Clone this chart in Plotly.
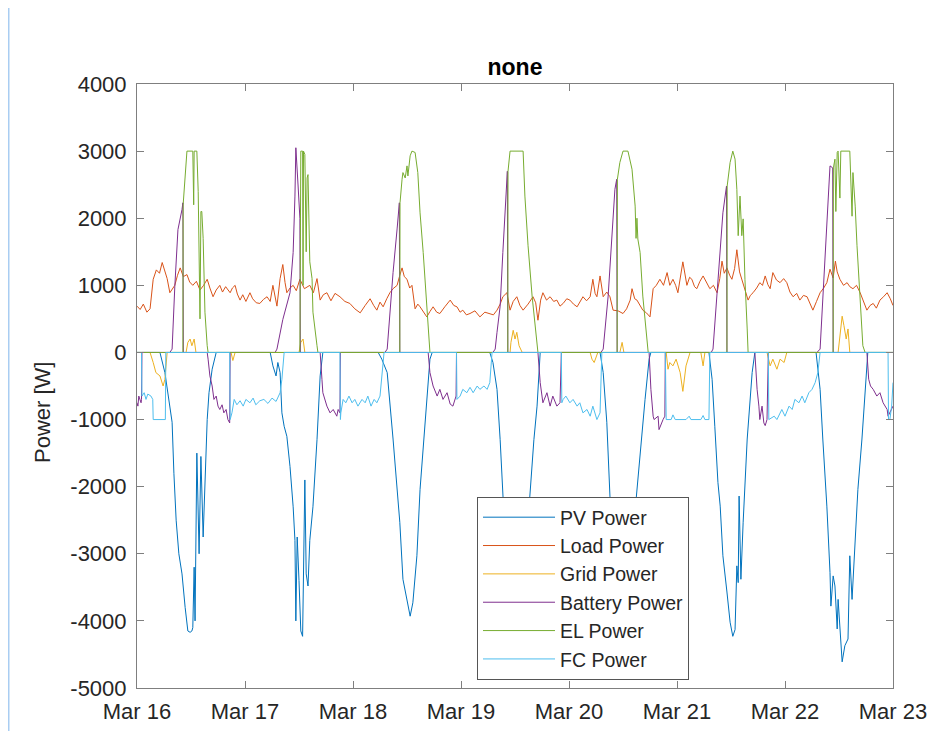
import numpy as np
import pandas as pd
import plotly.graph_objects as go

START = pd.Timestamp("2024-03-16 00:00")

# ---- data: hours since Mar 16 00:00 and power in W ----
pv_h = [0.0, 5.1, 6.2, 7.1, 7.8, 8.2, 8.7, 9.3, 10.0, 10.7, 11.3, 11.8, 12.2, 12.4, 12.7, 12.9, 13.3, 13.8, 14.2, 14.7,
        15.1, 15.6, 16.0, 16.7, 17.6,
        29.6, 30.2, 30.9, 31.3, 31.8, 32.2, 32.7, 33.3, 34.0, 34.7, 35.1, 35.3, 35.6, 36.0, 36.4, 36.8, 37.1, 37.3,
        37.6, 38.0, 38.4, 39.1, 40.0, 40.7, 41.3,
        53.6, 54.4, 55.6, 56.9, 58.4, 59.1, 60.0, 60.7, 61.3, 62.2, 62.9, 64.0, 65.1, 65.6,
        78.4, 79.1, 80.0, 80.7, 81.3, 82.2, 83.1, 84.0, 84.9, 86.0, 87.3, 88.2, 88.9, 89.6,
        102.9, 103.6, 104.4, 105.1, 106.0, 107.1, 108.2, 109.3, 110.2, 110.9, 111.8, 112.9, 113.8, 114.2,
        127.1, 127.8, 128.4, 129.1, 129.6, 130.2, 131.1, 131.8, 132.4, 132.9, 133.3, 133.6, 133.8, 134.2, 134.7,
        135.6, 136.7, 137.3,
        150.9, 151.8, 152.4, 153.3, 154.0, 154.2, 154.7, 155.1, 155.6, 155.8, 156.7, 157.3, 158.0, 158.4, 158.9,
        159.6, 160.2, 161.1, 161.8, 162.4, 168.0]
pv_w = [0, 0, -300, -700, -1040, -1800, -2500, -3000, -3300, -3800, -4150, -4170, -4150, -4100, -3200, -4000, -1500,
        -3000, -1550, -2750, -1900, -1000, -600, -250, 0,
        0, -200, -350, -150, -300, -900, -1100, -1250, -1700, -2300, -2800, -4000, -2750, -3400, -4150, -4230, -3000,
        -1900, -3300, -3480, -2800, -2300, -1300, -350, 0,
        0, -100, -300, -1290, -2530, -3380, -3680, -3930, -3730, -3030, -2040, -1040, -100, 0,
        0, -150, -550, -1300, -2140, -3300, -4000, -4200, -4000, -3200, -2140, -1300, -800, 0,
        0, -300, -1040, -2140, -3300, -4000, -4150, -3800, -3000, -2200, -1500, -700, -100, 0,
        0, -400, -1100, -1940, -2290, -3030, -3570, -4020, -4230, -4130, -3180, -3430, -2140, -3380, -2530,
        -1290, -300, 0,
        0, -550, -1290, -2290, -3280, -3780, -3330, -3480, -4120, -3680, -4610, -4370, -4270, -3030, -3680,
        -2780, -2040, -1290, -550, 0, 0]

load_h = [0.0, 0.7, 1.4, 2.2, 2.9, 3.6, 4.3, 5.0, 5.6, 6.2, 6.7, 7.3, 7.9, 8.4, 9.0, 9.6, 10.3, 11.1, 11.7, 12.4,
          13.2, 14.0, 14.8, 15.6, 16.2, 16.9, 17.6, 18.4, 19.0, 19.7, 20.7, 21.2, 21.8, 22.3, 22.9, 23.5, 24.2,
          25.1, 25.7, 26.5, 27.3, 28.1, 28.9, 29.6, 30.2, 30.7, 31.1, 31.8, 32.4, 32.9, 33.3, 34.0, 34.7, 35.4,
          36.2, 37.2, 38.4, 39.2, 40.0, 40.7, 41.4, 42.2, 43.1, 44.0, 45.1, 46.2, 47.3, 48.4, 49.6, 50.7, 51.8,
          52.6, 53.3, 54.0, 54.7, 55.5, 56.2, 56.9, 57.8, 58.4, 58.9, 59.4, 60.0, 60.6, 61.1, 61.8, 62.4, 62.9,
          63.6, 64.4, 65.1, 65.8, 66.6, 67.3, 68.4, 69.6, 70.4, 71.1, 71.8, 72.4, 73.2, 74.0, 75.1, 76.2, 77.3,
          78.4, 79.2, 80.0, 80.7, 81.3, 82.2, 82.9, 83.6, 84.4, 85.1, 85.8, 86.9, 88.0, 88.6, 89.1, 89.7, 90.2,
          91.0, 91.8, 92.6, 93.3, 94.0, 94.7, 95.5, 96.2, 97.0, 97.8, 98.4, 99.1, 99.9, 100.7, 101.3, 101.8, 102.2,
          102.9, 103.6, 104.4, 105.1, 105.8, 106.9, 108.0, 108.8, 109.6, 110.0, 110.6, 111.1, 111.8, 112.4, 113.2,
          114.0, 114.7, 115.4, 116.2, 117.0, 117.8, 118.4, 119.1, 119.7, 120.2, 120.8, 121.3, 122.2, 122.8, 123.3,
          123.9, 124.4, 125.1, 125.8, 126.6, 127.3, 128.1, 128.9, 129.5, 130.0, 130.5, 131.1, 131.7, 132.2, 132.8,
          133.3, 133.9, 134.4, 135.1, 135.8, 136.3, 136.9, 137.7, 138.4, 139.0, 139.6, 140.2, 140.7, 141.3, 142.1,
          142.9, 143.7, 144.4, 145.1, 145.8, 146.6, 147.3, 148.1, 148.9, 149.6, 150.2, 151.0, 151.8, 152.6, 153.3,
          154.0, 154.7, 155.2, 155.6, 156.2, 157.0, 157.8, 158.4, 159.1, 159.9, 160.7, 161.5, 162.2, 162.9, 163.6,
          164.3, 165.1, 165.9, 166.7, 167.4, 168.0]
load_w = [690, 640, 720, 600, 650, 1090, 1230, 1180, 1340, 1200, 1100, 890, 960, 1000, 1150, 1260, 1130, 1160,
          1050, 1000, 1060, 930, 1000, 1090, 960, 830, 930, 1000, 900, 980, 890, 960, 1000, 870, 780, 860, 760,
          890, 800, 740, 730, 790, 830, 760, 1000, 840, 690, 1100, 1310, 1040, 890, 960, 1000, 920,
          1090, 950, 1000, 890, 1100, 780, 860, 890, 770, 880, 830, 760, 730, 650, 590, 700, 800,
          700, 630, 750, 680, 800, 890, 950, 1000, 1150, 1260, 1130, 1090, 960, 1000, 650, 720, 680,
          600, 530, 610, 680, 600, 580, 680, 780, 700, 680, 600, 630, 560, 580, 620, 530, 600,
          580, 560, 630, 720, 830, 890, 630, 760, 830, 700, 630, 720, 830, 740, 480, 780, 890,
          780, 830, 760, 780, 690, 730, 800, 780, 720, 680, 740, 830, 770, 830, 1090, 880, 830,
          1140, 830, 900, 830, 630, 620, 580, 650, 780, 950, 800, 780, 700, 630, 590,
          530, 950, 1000, 1090, 1000, 1190, 1000, 1090, 1000, 890, 1150, 1350, 1000, 1120, 1090,
          980, 950, 1060, 1140, 1030, 950, 1000, 890, 1100, 1360, 1180, 1260, 1150, 1090, 1250,
          1530, 1200, 1090, 950, 780, 850, 890, 960, 1040, 1000, 1140, 1010, 950, 1190, 1080,
          1040, 1100, 1040, 900, 830, 880, 780, 850, 830, 720, 630, 760, 890, 960, 1040,
          1240, 1110, 1360, 1200, 1090, 1000, 1040, 980, 950, 1000, 890, 760, 630, 700, 730,
          660, 780, 830, 890, 800, 700]

grid_h = [0.0, 2.9, 3.6, 4.2, 5.1, 5.8, 6.2, 6.7, 10.9, 11.3, 11.8, 12.2, 12.7, 13.1, 20.9, 21.3, 21.8,
          36.0, 36.4, 36.9, 37.3, 82.9, 83.1, 83.6, 84.0, 84.4, 84.9, 85.6, 100.7, 101.1, 101.6, 102.0, 102.4,
          107.3, 107.8, 108.2, 117.6, 118.0, 118.4, 119.1, 119.8, 120.7, 121.3, 122.0, 122.4, 122.9,
          125.3, 125.8, 126.2, 140.0, 140.7, 141.3, 142.2, 142.9, 143.8, 144.4,
          155.8, 156.2, 156.7, 157.1, 157.6, 158.0, 158.4, 168.0]
grid_w = [0, 0, -150, -300, -350, -500, -400, 0, 0, 150, 200, 100, 200, 0, 0, -120, 0,
          0, 150, 200, 0, 0, 150, 330, 200, 300, 100, 0, 0, -100, -150, -80, 0,
          0, 150, 0, 0, -250, -150, -200, -100, -300, -580, -200, -100, 0,
          0, -200, 0, 0, -200, -100, -250, -100, -150, 0,
          0, 250, 540, 400, 200, 350, 0, 0]

batt_h = [0.0, 0.2, 0.4, 0.9, 1.0, 1.1, 7.3, 7.8, 8.4, 9.1, 10.0, 10.2, 10.3,
          15.6, 15.8, 16.2, 16.7, 17.1, 17.6, 18.0, 18.4, 18.9, 19.3, 19.8, 20.2, 20.6, 20.7,
          30.7, 31.1, 32.4, 34.0, 34.7, 35.1, 35.3, 35.8, 36.2, 36.3,
          40.7, 41.1, 41.3, 42.2, 42.9, 43.6, 44.4, 44.7, 45.1, 45.2,
          55.1, 55.6, 56.2, 56.9, 57.8, 58.3, 58.4,
          64.7, 65.1, 65.8, 66.7, 67.3, 68.0, 68.9, 69.6, 70.2, 70.9, 71.0,
          79.1, 79.6, 80.0, 80.7, 81.3, 81.8, 82.3, 82.4,
          89.1, 89.6, 90.2, 91.1, 91.8, 92.4, 93.3, 94.0, 94.3,
          103.1, 103.6, 104.7, 105.6, 106.2, 106.6, 106.7,
          113.8, 114.2, 114.7, 114.9, 115.8, 116.0, 116.9, 117.3, 117.4,
          127.6, 128.0, 128.9, 129.6, 130.2, 131.0, 131.1,
          137.3, 137.8, 138.2, 138.4, 138.9, 139.3, 139.6, 140.0, 140.3,
          151.1, 151.8, 152.4, 153.3, 154.0, 154.6, 154.7,
          162.2, 162.6, 163.0, 163.6, 164.4, 165.1, 165.8, 166.7, 166.9, 167.3, 168.0]
batt_w = [-750, -800, -650, -750, -700, 0, 0, 50, 980, 1830, 2130, 2230, 0,
          0, -100, -350, -500, -700, -650, -800, -850, -780, -900, -850, -1000, -1050, 0,
          0, 50, 490, 890, 1490, 2330, 3050, 2480, 2000, 0,
          0, -400, -600, -800, -900, -850, -950, -850, -900, 0,
          0, 50, 600, 1190, 1840, 2230, 0,
          0, -300, -500, -650, -550, -700, -600, -770, -800, -650, 0,
          0, 50, 300, 690, 1490, 2180, 2700, 0,
          0, -450, -750, -600, -800, -650, -800, -750, 0,
          0, 50, 840, 1840, 2430, 2580, 0,
          0, -550, -950, -1000, -950, -1150, -1000, -950, 0,
          0, 50, 840, 1590, 2080, 2480, 0,
          0, -550, -800, -1000, -800, -1050, -1090, -1000, 0,
          0, 50, 840, 1840, 2780, 2750, 0,
          0, -400, -500, -550, -650, -600, -750, -850, -950, -900, -800]

el_h = [0.0, 10.2, 10.25, 10.7, 11.1, 12.4, 12.6, 12.7, 13.3, 13.6, 14.0, 14.2, 14.4, 14.7, 15.1, 15.6, 15.8,
        36.2, 36.25, 36.4, 36.8, 36.9, 37.0, 37.3, 37.6, 37.8, 38.0, 38.4, 38.9, 39.1, 40.0, 40.2,
        58.4, 58.45, 58.9, 59.1, 59.6, 60.0, 60.2, 60.7, 61.1, 61.8, 62.4, 62.9, 63.6, 64.4, 65.1,
        82.4, 82.45, 82.9, 85.8, 86.2, 86.9, 87.8, 88.4, 89.1,
        106.7, 106.75, 107.3, 108.0, 109.1, 110.0, 110.7, 110.9, 111.1, 111.3, 111.8, 112.4, 113.6,
        131.1, 131.15, 131.8, 132.4, 132.9, 133.3, 133.6, 134.0, 134.4, 134.7, 135.1, 135.6, 135.8,
        154.7, 154.75, 155.1, 155.3, 155.6, 155.8, 156.2, 156.4, 158.4, 158.9, 159.1, 159.6, 160.0, 160.7,
        161.3, 161.8, 168.0]
el_w = [0, 0, 2200, 2700, 3000, 3000, 2200, 3000, 3000, 2400, 500, 2100, 2100, 1700, 600, 100, 0,
        0, 2500, 3000, 3000, 1000, 3000, 2950, 1500, 2600, 2650, 1350, 1100, 600, 100, 0,
        0, 2230, 2580, 2680, 2600, 2780, 2630, 2930, 3000, 2980, 2680, 2080, 1490, 600, 0,
        0, 2700, 3000, 3000, 2330, 1590, 840, 490, 0,
        0, 2580, 2830, 3000, 3000, 2730, 2180, 1700, 2000, 1690, 1490, 840, 0,
        0, 2480, 2830, 3000, 2880, 2430, 1740, 2330, 1740, 1990, 1090, 350, 0,
        0, 2750, 2880, 2100, 2980, 3000, 2300, 3000, 3000, 2030, 2680, 2180, 1590, 840,
        100, 0, 0]

fc_h = [0.0, 1.0, 1.1, 1.6, 2.0, 2.4, 3.1, 3.5, 3.6, 6.3, 6.4,
        20.6, 20.7, 21.1, 21.6, 22.2, 22.9, 23.6, 24.2, 25.1, 25.8, 26.4, 27.3, 28.2, 29.1, 30.0, 30.9, 31.8,
        32.2, 32.7,
        45.1, 45.2, 45.3, 45.8, 46.4, 47.1, 47.8, 48.4, 49.1, 50.0, 50.7, 51.3, 52.0, 52.7, 53.3, 54.0, 54.4, 54.9,
        71.0, 71.1, 71.8, 72.4, 73.3, 74.0, 74.7, 75.6, 76.2, 77.1, 77.8, 78.4, 78.9,
        94.3, 94.4, 94.7, 95.3, 96.2, 96.9, 97.8, 98.4, 99.1, 100.0, 100.7, 101.3, 102.2, 102.9, 103.3,
        117.4, 117.6, 118.7, 119.1, 119.6, 122.0, 122.7, 123.1, 125.3, 125.8, 126.2, 127.1, 127.3,
        140.3, 140.4, 141.6, 142.2, 143.3, 144.0, 144.9, 145.6, 146.2, 147.1, 147.8, 148.4, 149.3, 150.0, 150.7,
        151.3, 151.8,
        166.9, 167.0, 167.3, 167.7, 168.0]
fc_w = [0, 0, -650, -600, -700, -620, -650, -700, -1000, -1000, 0,
        0, -1000, -900, -700, -780, -720, -800, -700, -750, -680, -780, -720, -700, -760, -680, -730, -600,
        -400, 0,
        0, -1000, -900, -700, -750, -650, -750, -700, -800, -700, -750, -650, -800, -700, -750, -650, -400, 0,
        0, -700, -650, -550, -600, -520, -600, -500, -550, -500, -550, -450, 0,
        0, -750, -700, -650, -750, -700, -800, -750, -900, -850, -950, -800, -1000, -900, 0,
        0, -1000, -1000, -930, -1000, -1000, -950, -1000, -1000, -940, -1000, -1000, 0,
        0, -1000, -950, -1000, -850, -950, -800, -850, -700, -750, -650, -750, -600, -550, -450,
        -300, 0,
        0, -1000, -1000, -800, -450]

series_names = ["PV Power", "Load Power", "Grid Power", "Battery Power", "EL Power", "FC Power"]
series_colors = ["#0072BD", "#D95319", "#EDB120", "#7E2F8E", "#77AC30", "#4DBEEE"]
series_data = [(pv_h, pv_w), (load_h, load_w), (grid_h, grid_w), (batt_h, batt_w), (el_h, el_w), (fc_h, fc_w)]

y_ticks = [4000, 3000, 2000, 1000, 0, -1000, -2000, -3000, -4000, -5000]
y_tick_labels = ["4000", "3000", "2000", "1000", "0", "-1000", "-2000", "-3000", "-4000", "-5000"]
x_tick_labels = ["Mar 16", "Mar 17", "Mar 18", "Mar 19", "Mar 20", "Mar 21", "Mar 22", "Mar 23"]
x_ticks = [START + pd.Timedelta(days=i) for i in range(len(x_tick_labels))]

FONT = "Liberation Sans, Arial, Helvetica, sans-serif"
TXT = "#262626"
AX = "#7f7f7f"

# plot area in figure pixels (the page adds an 8 px body margin)
L, R, T, B = 129, 885, 76, 680
PW, PH = R - L, B - T

fig = go.Figure()
for name, color, (hh, ww) in zip(series_names, series_colors, series_data):
    x = START + pd.to_timedelta(np.asarray(hh, dtype=float), unit="h")
    fig.add_trace(go.Scatter(x=x, y=ww, mode="lines", name=name, legendgroup=name,
                             line=dict(color=color, width=1)))

fig.update_layout(
    width=949, height=731,
    margin=dict(l=L, r=949 - R, t=T, b=731 - B),
    paper_bgcolor="white", plot_bgcolor="white",
    font=dict(family=FONT, size=22, color=TXT),
    title=dict(text="<b>none</b>", xref="paper", x=0.5, xanchor="center",
               yref="container", y=1 - 59 / 731, yanchor="middle",
               font=dict(family=FONT, size=23, color="#000000")),
    showlegend=True,
    legend=dict(x=(469 - L) / PW, y=(B - 489) / PH, xanchor="left", yanchor="top",
                bgcolor="white", bordercolor="#555555", borderwidth=1,
                font=dict(family=FONT, size=19.5, color=TXT),
                traceorder="grouped", tracegroupgap=0, itemwidth=72,
                entrywidth=140, entrywidthmode="pixels"),
)
fig.update_xaxes(
    type="date", range=[x_ticks[0], x_ticks[-1]],
    tickmode="array", tickvals=x_ticks, ticktext=x_tick_labels,
    ticks="inside", ticklen=7, tickcolor=AX, showline=True, linecolor=AX, linewidth=1,
    mirror="allticks", showgrid=False, zeroline=False, ticklabelstandoff=4,
    tickfont=dict(family=FONT, size=22, color=TXT),
)
fig.update_yaxes(
    range=[-5000, 4000], tickmode="array", tickvals=y_ticks, ticktext=y_tick_labels,
    ticks="inside", ticklen=7, tickcolor=AX, showline=True, linecolor=AX, linewidth=1,
    mirror="allticks", showgrid=False, zeroline=False, ticklabelstandoff=5,
    tickfont=dict(family=FONT, size=22, color=TXT),
)
# y-axis label
fig.add_annotation(text="Power [W]", textangle=-90, xref="paper", yref="paper",
                   x=(34 - L) / PW, y=(B - 405) / PH, xanchor="center", yanchor="middle",
                   showarrow=False, font=dict(family=FONT, size=22, color=TXT))
# thin light-blue window border at the left edge of the capture
fig.add_shape(type="line", xref="paper", yref="paper",
              x0=(0.5 - L) / PW, x1=(0.5 - L) / PW, y0=(B + 10) / PH, y1=(B - 731) / PH,
              line=dict(color="#a9cdf2", width=2))

fig.write_html("out.html")
